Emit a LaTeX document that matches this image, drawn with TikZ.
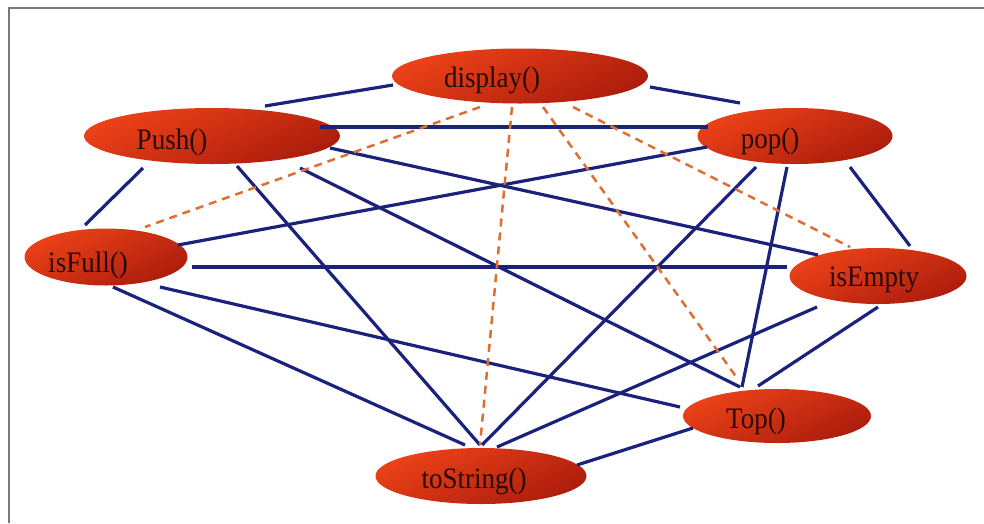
\documentclass[tikz,border=0pt]{standalone}
\usepackage{fontspec}
\setmainfont{Liberation Serif}
\usetikzlibrary{shapes.geometric,calc}

\definecolor{edgeblue}{RGB}{26,34,124}
\definecolor{dashorange}{RGB}{222,110,50}
\definecolor{ovalhi}{RGB}{236,66,24}
\definecolor{ovalmid}{RGB}{214,46,18}
\definecolor{ovallo}{RGB}{172,28,12}
\definecolor{labelink}{RGB}{38,10,6}
\definecolor{framegray}{RGB}{120,120,120}

\tikzset{
  oval/.style={ellipse, draw=none, inner sep=0pt, outer sep=0pt,
    top color=ovalhi, middle color=ovalmid, bottom color=ovallo, shading angle=25},
  ovaltext/.style={font=\fontsize{27}{30}\selectfont, text=labelink, inner sep=0pt,
    yscale=1.1},
  link/.style={draw=edgeblue, line width=3.2pt},
  weak/.style={draw=dashorange, line width=2.5pt, dash pattern=on 8pt off 6pt},
  frameline/.style={draw=framegray, line width=1.4pt},
}

\begin{document}
\begin{tikzpicture}[x=1pt,y=-1pt]
  % canvas
  \fill[white] (0,0) rectangle (984,523);
  \useasboundingbox (0,0) rectangle (984,523);
  \draw[frameline] (9,523) -- (9,8) -- (984,8);

  % method ovals
  \node[oval, minimum width=256pt, minimum height=55pt] (display) at (520,76) {};
  \node[oval, minimum width=256pt, minimum height=56pt] (push) at (212,136) {};
  \node[oval, minimum width=195pt, minimum height=56pt] (pop) at (795,136) {};
  \node[oval, minimum width=163pt, minimum height=57pt] (isfull) at (106,257) {};
  \node[oval, minimum width=177pt, minimum height=56pt] (isempty) at (878,276) {};
  \node[oval, minimum width=188pt, minimum height=54pt] (top) at (777,416) {};
  \node[oval, minimum width=211pt, minimum height=56pt] (tostring) at (481,476) {};

  % oval captions
  \node[ovaltext] (display-text) at ($(display)+(-28,4)$) {display()};
  \node[ovaltext] (push-text) at ($(push)+(-40,6)$) {Push()};
  \node[ovaltext] (pop-text) at ($(pop)+(-25,5)$) {pop()};
  \node[ovaltext] (isfull-text) at ($(isfull)+(-18,8)$) {isFull()};
  \node[ovaltext] (isempty-text) at ($(isempty)+(-4,4)$) {isEmpty};
  \node[ovaltext] (top-text) at ($(top)+(-21,5)$) {Top()};
  \node[ovaltext] (tostring-text) at ($(tostring)+(-7,5)$) {toString()};

  % solid links
  \draw[link] ($(display)+(-127,9)$) -- ($(push)+(53,-30)$);
  \draw[link] ($(display)+(130,11)$) -- ($(pop)+(-55,-33)$);
  \draw[link] ($(push)+(108,-9)$) -- ($(pop)+(-87,-9)$);
  \draw[link] ($(push)+(-69,32)$) -- ($(isfull)+(-21,-32)$);
  \draw[link] ($(pop)+(55,31)$) -- ($(isempty)+(32,-30)$);
  \draw[link] ($(push)+(118,12)$) -- ($(isempty)+(-60,-21)$);
  \draw[link] ($(push)+(88,32)$) -- ($(top)+(-37,-29)$);
  \draw[link] ($(push)+(25,30)$) -- ($(tostring)+(-1,-31)$);
  \draw[link] ($(isfull)+(72,-12)$) -- ($(pop)+(-88,11)$);
  \draw[link] ($(isfull)+(86,10)$) -- ($(isempty)+(-91,-9)$);
  \draw[link] ($(isfull)+(7,30)$) -- ($(tostring)+(-16,-31)$);
  \draw[link] ($(isfull)+(54,30)$) -- ($(top)+(-97,-9)$);
  \draw[link] ($(pop)+(-39,31)$) -- ($(tostring)+(1,-31)$);
  \draw[link] ($(isempty)+(-61,31)$) -- ($(tostring)+(16,-29)$);
  \draw[link] ($(isempty)+(0,31)$) -- ($(top)+(-19,-30)$);
  \draw[link] ($(top)+(-84,12)$) -- ($(tostring)+(96,-11)$);
  \draw[link] ($(pop)+(-8,31)$) -- ($(top)+(-35,-29)$);

  % dashed links from display()
  \draw[weak] ($(display)+(-40,31)$) -- ($(isfull)+(39,-30)$);
  \draw[weak] ($(display)+(-8,31)$) -- ($(tostring)+(-1,-31)$);
  \draw[weak] ($(display)+(23,31)$) -- ($(top)+(-40,-38)$);
  \draw[weak] ($(display)+(53,31)$) -- ($(isempty)+(-28,-29)$);
\end{tikzpicture}
\end{document}
